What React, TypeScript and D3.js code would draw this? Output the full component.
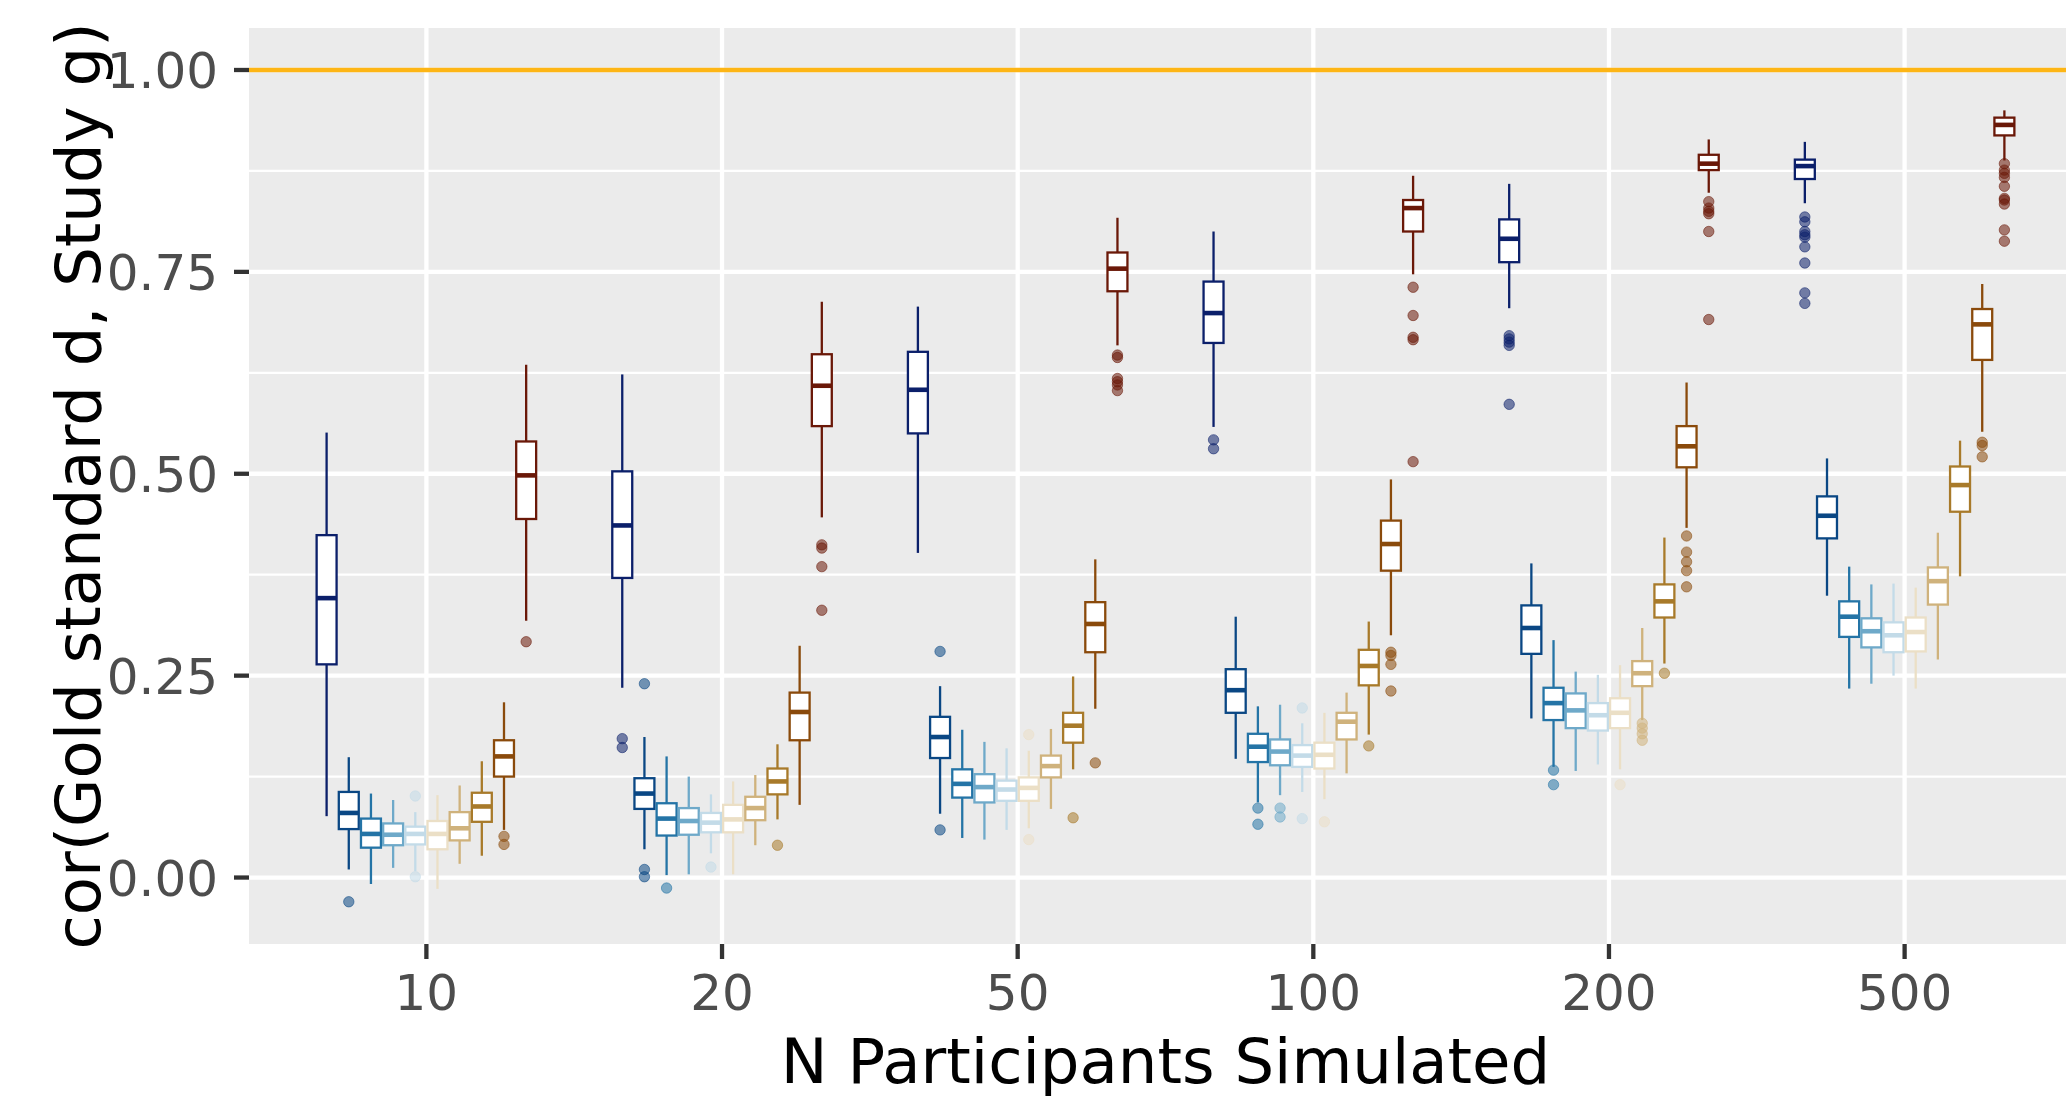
import React from "react";
import * as d3 from "d3";

// x categories (N participants simulated)
const nLevels = ["10", "20", "50", "100", "200", "500"];

// ten dodged series, dark blue -> dark brown
const seriesKeys = ["s1", "s2", "s3", "s4", "s5", "s6", "s7", "s8", "s9", "s10"];
const seriesColors = [
  "#0b1f6a", "#0a4784", "#2474a6", "#6ea9c9", "#c3dbe8",
  "#ebdfc6", "#cfb27c", "#a87a2a", "#8a4a0b", "#6a1808",
];

const yTicks = [0, 0.25, 0.5, 0.75, 1];
const yMinorTicks = [0.125, 0.375, 0.625, 0.875];
const referenceValue = 1;

// box statistics: one row per series, one column per N level
const lowerWhisker = [
  [0.076, 0.235, 0.402, 0.558, 0.705, 0.835],
  [0.010, 0.035, 0.079, 0.147, 0.197, 0.349],
  [-0.008, 0.003, 0.049, 0.093, 0.137, 0.234],
  [0.012, 0.004, 0.047, 0.102, 0.132, 0.240],
  [0.008, 0.030, 0.059, 0.106, 0.140, 0.250],
  [-0.014, 0.004, 0.061, 0.097, 0.134, 0.234],
  [0.017, 0.040, 0.085, 0.129, 0.195, 0.270],
  [0.027, 0.072, 0.134, 0.177, 0.265, 0.373],
  [0.059, 0.090, 0.209, 0.300, 0.433, 0.552],
  [0.318, 0.446, 0.659, 0.747, 0.848, 0.888],
];
const quartile1 = [
  [0.264, 0.371, 0.550, 0.662, 0.762, 0.865],
  [0.060, 0.085, 0.148, 0.204, 0.277, 0.420],
  [0.037, 0.052, 0.099, 0.143, 0.195, 0.298],
  [0.040, 0.053, 0.093, 0.139, 0.185, 0.285],
  [0.041, 0.056, 0.095, 0.137, 0.182, 0.279],
  [0.035, 0.056, 0.095, 0.135, 0.185, 0.280],
  [0.046, 0.071, 0.124, 0.171, 0.237, 0.338],
  [0.069, 0.103, 0.167, 0.238, 0.322, 0.453],
  [0.125, 0.170, 0.279, 0.380, 0.508, 0.641],
  [0.444, 0.559, 0.726, 0.800, 0.876, 0.919],
];
const medians = [
  [0.346, 0.436, 0.604, 0.699, 0.791, 0.881],
  [0.080, 0.104, 0.174, 0.232, 0.309, 0.448],
  [0.054, 0.073, 0.116, 0.162, 0.216, 0.323],
  [0.053, 0.070, 0.112, 0.156, 0.207, 0.305],
  [0.054, 0.068, 0.109, 0.151, 0.201, 0.300],
  [0.054, 0.072, 0.111, 0.152, 0.204, 0.304],
  [0.061, 0.086, 0.138, 0.193, 0.253, 0.367],
  [0.088, 0.119, 0.188, 0.262, 0.342, 0.486],
  [0.150, 0.205, 0.314, 0.413, 0.534, 0.685],
  [0.498, 0.609, 0.754, 0.829, 0.884, 0.932],
];
const quartile3 = [
  [0.424, 0.503, 0.651, 0.738, 0.815, 0.889],
  [0.106, 0.123, 0.199, 0.258, 0.337, 0.472],
  [0.073, 0.092, 0.134, 0.178, 0.235, 0.342],
  [0.067, 0.086, 0.128, 0.171, 0.228, 0.321],
  [0.063, 0.080, 0.120, 0.164, 0.216, 0.316],
  [0.070, 0.090, 0.124, 0.167, 0.222, 0.322],
  [0.081, 0.100, 0.151, 0.204, 0.268, 0.384],
  [0.105, 0.135, 0.204, 0.282, 0.363, 0.509],
  [0.170, 0.229, 0.341, 0.442, 0.559, 0.704],
  [0.540, 0.648, 0.774, 0.839, 0.895, 0.941],
];
const upperWhisker = [
  [0.551, 0.623, 0.707, 0.800, 0.859, 0.911],
  [0.149, 0.174, 0.237, 0.323, 0.389, 0.519],
  [0.104, 0.150, 0.183, 0.212, 0.294, 0.385],
  [0.096, 0.125, 0.168, 0.214, 0.255, 0.363],
  [0.081, 0.103, 0.160, 0.191, 0.251, 0.364],
  [0.102, 0.119, 0.157, 0.204, 0.263, 0.359],
  [0.114, 0.127, 0.184, 0.229, 0.309, 0.427],
  [0.144, 0.165, 0.249, 0.317, 0.421, 0.541],
  [0.217, 0.287, 0.394, 0.493, 0.613, 0.735],
  [0.635, 0.713, 0.817, 0.869, 0.914, 0.950],
];
const outliers = [
  [[], [0.172, 0.161], [], [0.542, 0.531], [0.671, 0.667, 0.663, 0.659, 0.586],
    [0.818, 0.812, 0.800, 0.796, 0.793, 0.781, 0.761, 0.724, 0.711]],
  [[-0.030], [0.240, 0.010, 0.001], [0.280, 0.059], [], [], []],
  [[], [-0.013], [], [0.086, 0.066], [0.133, 0.115], []],
  [[], [], [], [0.086, 0.075], [], []],
  [[0.101, 0.001], [0.013], [], [0.210, 0.073], [], []],
  [[], [], [0.177, 0.047], [0.069], [0.115], []],
  [[], [], [], [], [0.191, 0.185, 0.178, 0.170], []],
  [[], [0.040], [0.074], [0.163], [0.253], []],
  [[0.051, 0.041], [], [0.142], [0.279, 0.275, 0.264, 0.231],
    [0.423, 0.403, 0.391, 0.380, 0.360], [0.539, 0.535, 0.521]],
  [[0.292], [0.412, 0.408, 0.385, 0.331], [0.647, 0.644, 0.618, 0.614, 0.610, 0.603],
    [0.731, 0.696, 0.669, 0.666, 0.515], [0.837, 0.829, 0.825, 0.822, 0.800, 0.691],
    [0.884, 0.876, 0.872, 0.867, 0.856, 0.841, 0.839, 0.834, 0.802, 0.788]],
];

const width = 2066;
const height = 1096;
const margin = { top: 28, left: 249 };
const panelRight = 2082; // panel runs a little past the picture edge
const panelBottom = 944;
const font = "'DejaVu Sans', Verdana, sans-serif";

export default function App() {
  const x = d3.scaleBand()
    .domain(nLevels)
    .range([margin.left, panelRight])
    .paddingInner(0)
    .paddingOuter(0.1);
  const step = x.step();
  const dodge = d3.scaleBand()
    .domain(seriesKeys)
    .range([-0.375 * step, 0.375 * step]);
  const boxW = dodge.bandwidth() * 0.9;

  const y = d3.scaleLinear()
    .domain([-0.0823, 1.052])
    .range([panelBottom, margin.top]);

  const center = (n: string) => (x(n) as number) + x.bandwidth() / 2;
  const fmt = d3.format(".2f");

  return (
    <svg
      width={width}
      height={height}
      style={{ position: "absolute", left: 0, top: 0, background: "#fff" }}
    >
      <defs>
        <clipPath id="panel-clip">
          <rect x={margin.left} y={margin.top} width={panelRight - margin.left} height={panelBottom - margin.top} />
        </clipPath>
      </defs>

      <rect x={margin.left} y={margin.top} width={panelRight - margin.left} height={panelBottom - margin.top} fill="#ebebeb" />

      <g clipPath="url(#panel-clip)">
        {yMinorTicks.map(t => (
          <line key={"mn" + t} x1={margin.left} x2={panelRight} y1={y(t)} y2={y(t)} stroke="#fff" strokeWidth={2.2} />
        ))}
        {yTicks.map(t => (
          <line key={"mj" + t} x1={margin.left} x2={panelRight} y1={y(t)} y2={y(t)} stroke="#fff" strokeWidth={4.3} />
        ))}
        {nLevels.map(n => (
          <line key={"v" + n} x1={center(n)} x2={center(n)} y1={margin.top} y2={panelBottom} stroke="#fff" strokeWidth={4.3} />
        ))}

        <line x1={margin.left} x2={panelRight} y1={y(referenceValue)} y2={y(referenceValue)} stroke="#fdb515" strokeWidth={4.3} />

        {seriesKeys.map((s, si) => (
          <g key={s}>
            {nLevels.map((n, ni) => {
              const cx = center(n) + (dodge(s) as number) + dodge.bandwidth() / 2;
              const col = seriesColors[si];
              return (
                <g key={n}>
                  <line x1={cx} x2={cx} y1={y(upperWhisker[si][ni])} y2={y(quartile3[si][ni])} stroke={col} strokeWidth={2.3} />
                  <line x1={cx} x2={cx} y1={y(quartile1[si][ni])} y2={y(lowerWhisker[si][ni])} stroke={col} strokeWidth={2.3} />
                  <rect
                    x={cx - boxW / 2}
                    y={y(quartile3[si][ni])}
                    width={boxW}
                    height={y(quartile1[si][ni]) - y(quartile3[si][ni])}
                    fill="#fff"
                    stroke={col}
                    strokeWidth={2.3}
                  />
                  <line x1={cx - boxW / 2} x2={cx + boxW / 2} y1={y(medians[si][ni])} y2={y(medians[si][ni])} stroke={col} strokeWidth={4.6} />
                  {outliers[si][ni].map((v, k) => (
                    <circle key={k} cx={cx} cy={y(v)} r={5.2} fill={col} fillOpacity={0.55} stroke={col} strokeOpacity={0.55} strokeWidth={1} />
                  ))}
                </g>
              );
            })}
          </g>
        ))}
      </g>

      {/* y axis */}
      {yTicks.map(t => (
        <g key={"yt" + t}>
          <line x1={margin.left - 15} x2={margin.left} y1={y(t)} y2={y(t)} stroke="#333" strokeWidth={4.3} />
          <text x={218} y={y(t)} dy="0.36em" textAnchor="end" fontFamily={font} fontSize={50} fill="#4d4d4d">
            {fmt(t)}
          </text>
        </g>
      ))}

      {/* x axis */}
      {nLevels.map(n => (
        <g key={"xt" + n}>
          <line x1={center(n)} x2={center(n)} y1={panelBottom} y2={panelBottom + 15} stroke="#333" strokeWidth={4.3} />
          <text x={center(n)} y={1010} textAnchor="middle" fontFamily={font} fontSize={50} fill="#4d4d4d">
            {n}
          </text>
        </g>
      ))}

      <text x={(margin.left + panelRight) / 2} y={1083} textAnchor="middle" fontFamily={font} fontSize={62.5} fill="#000">
        N Participants Simulated
      </text>
      <text
        transform={`translate(100,${(margin.top + panelBottom) / 2}) rotate(-90)`}
        textAnchor="middle"
        fontFamily={font}
        fontSize={62.5}
        fill="#000"
      >
        cor(Gold standard d, Study g)
      </text>
    </svg>
  );
}
